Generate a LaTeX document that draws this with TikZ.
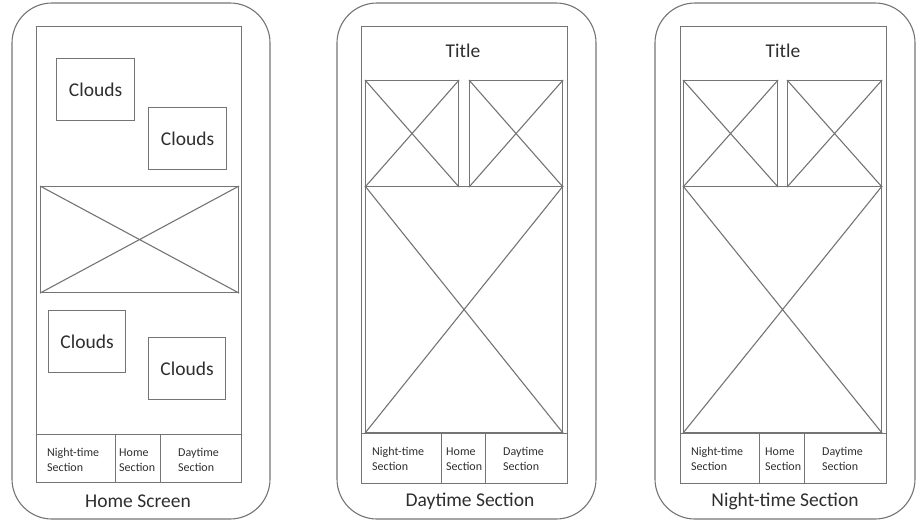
\documentclass[tikz,border=0pt]{standalone}
\usepackage{fontspec}
\setmainfont{Carlito}
\definecolor{linegray}{HTML}{747474}
\definecolor{textgray}{HTML}{2E2E2E}
\begin{document}
\begin{tikzpicture}[x=1pt,y=-1pt,
  outline/.style={draw=linegray, line width=1.1pt},
  phone/.style={outline, rounded corners=40pt},
  panel/.style={outline, rectangle, inner sep=0pt, anchor=north west,
    text=textgray, font=\fontsize{19.5}{22}\selectfont},
  cross/.style={outline},
  navtext/.style={anchor=west, align=left, inner sep=0pt, text=textgray,
    font=\fontsize{12}{14.5}\selectfont},
  caption/.style={inner sep=0pt, text=textgray, font=\fontsize{19.5}{22}\selectfont},
  heading/.style={inner sep=0pt, text=textgray, font=\fontsize{19.5}{22}\selectfont}]
\useasboundingbox (0,0) rectangle (921,528);

% ---------- Home Screen ----------
\draw[phone] (12,3) rectangle (270,519);
\node[panel, minimum width=205pt, minimum height=408pt] (hscreen) at (36,26) {};
\node[panel, minimum width=78pt, minimum height=62pt] (hc1) at (56,58) {Clouds};
\node[panel, minimum width=78pt, minimum height=62pt] (hc2) at (148,107) {Clouds};
\node[panel, minimum width=198pt, minimum height=106pt] (himg) at (40,186) {};
\draw[cross] (himg.north west) -- (himg.south east) (himg.south west) -- (himg.north east);
\node[panel, minimum width=77pt, minimum height=62pt] (hc3) at (48,310) {Clouds};
\node[panel, minimum width=77pt, minimum height=62pt] (hc4) at (148,337) {Clouds};
\node[panel, minimum width=79pt, minimum height=48pt] (hn1) at (36,434) {};
\node[panel, minimum width=45pt, minimum height=48pt] (hn2) at (115,434) {};
\node[panel, minimum width=81pt, minimum height=48pt] (hn3) at (160,434) {};
\node[navtext] (hl1) at (47,460) {Night-time\\Section};
\node[navtext] (hl2) at (119,460) {Home\\Section};
\node[navtext] (hl3) at (178,460) {Daytime\\Section};
\node[caption] (hcap) at (138,501) {Home Screen};

% ---------- Daytime Section ----------
\draw[phone] (337,3) rectangle (596,519);
\node[panel, minimum width=206pt, minimum height=407pt] (dscreen) at (361,26) {};
\node[heading] (dtitle) at (463,51) {Title};
\node[panel, minimum width=93pt, minimum height=106pt] (dimg1) at (365,80) {};
\draw[cross] (dimg1.north west) -- (dimg1.south east) (dimg1.south west) -- (dimg1.north east);
\node[panel, minimum width=93pt, minimum height=106pt] (dimg2) at (469,80) {};
\draw[cross] (dimg2.north west) -- (dimg2.south east) (dimg2.south west) -- (dimg2.north east);
\node[panel, minimum width=197pt, minimum height=246pt] (dimg3) at (365,186) {};
\draw[cross] (dimg3.north west) -- (dimg3.south east) (dimg3.south west) -- (dimg3.north east);
\node[panel, minimum width=80pt, minimum height=50pt] (dn1) at (361,433) {};
\node[panel, minimum width=44pt, minimum height=50pt] (dn2) at (441,433) {};
\node[panel, minimum width=82pt, minimum height=50pt] (dn3) at (485,433) {};
\node[navtext] (dl1) at (372,459) {Night-time\\Section};
\node[navtext] (dl2) at (446,459) {Home\\Section};
\node[navtext] (dl3) at (503,459) {Daytime\\Section};
\node[caption] (dcap) at (470,501) {Daytime Section};

% ---------- Night-time Section ----------
\draw[phone] (655,3) rectangle (915,519);
\node[panel, minimum width=206pt, minimum height=407pt] (nscreen) at (680,26) {};
\node[heading] (ntitle) at (783,51) {Title};
\node[panel, minimum width=94pt, minimum height=106pt] (nimg1) at (683,80) {};
\draw[cross] (nimg1.north west) -- (nimg1.south east) (nimg1.south west) -- (nimg1.north east);
\node[panel, minimum width=94pt, minimum height=106pt] (nimg2) at (787,80) {};
\draw[cross] (nimg2.north west) -- (nimg2.south east) (nimg2.south west) -- (nimg2.north east);
\node[panel, minimum width=198pt, minimum height=246pt] (nimg3) at (683,186) {};
\draw[cross] (nimg3.north west) -- (nimg3.south east) (nimg3.south west) -- (nimg3.north east);
\node[panel, minimum width=79pt, minimum height=50pt] (nn1) at (680,433) {};
\node[panel, minimum width=45pt, minimum height=50pt] (nn2) at (759,433) {};
\node[panel, minimum width=82pt, minimum height=50pt] (nn3) at (804,433) {};
\node[navtext] (nl1) at (691,459) {Night-time\\Section};
\node[navtext] (nl2) at (765,459) {Home\\Section};
\node[navtext] (nl3) at (822,459) {Daytime\\Section};
\node[caption] (ncap) at (785,501) {Night-time Section};
\end{tikzpicture}
\end{document}
